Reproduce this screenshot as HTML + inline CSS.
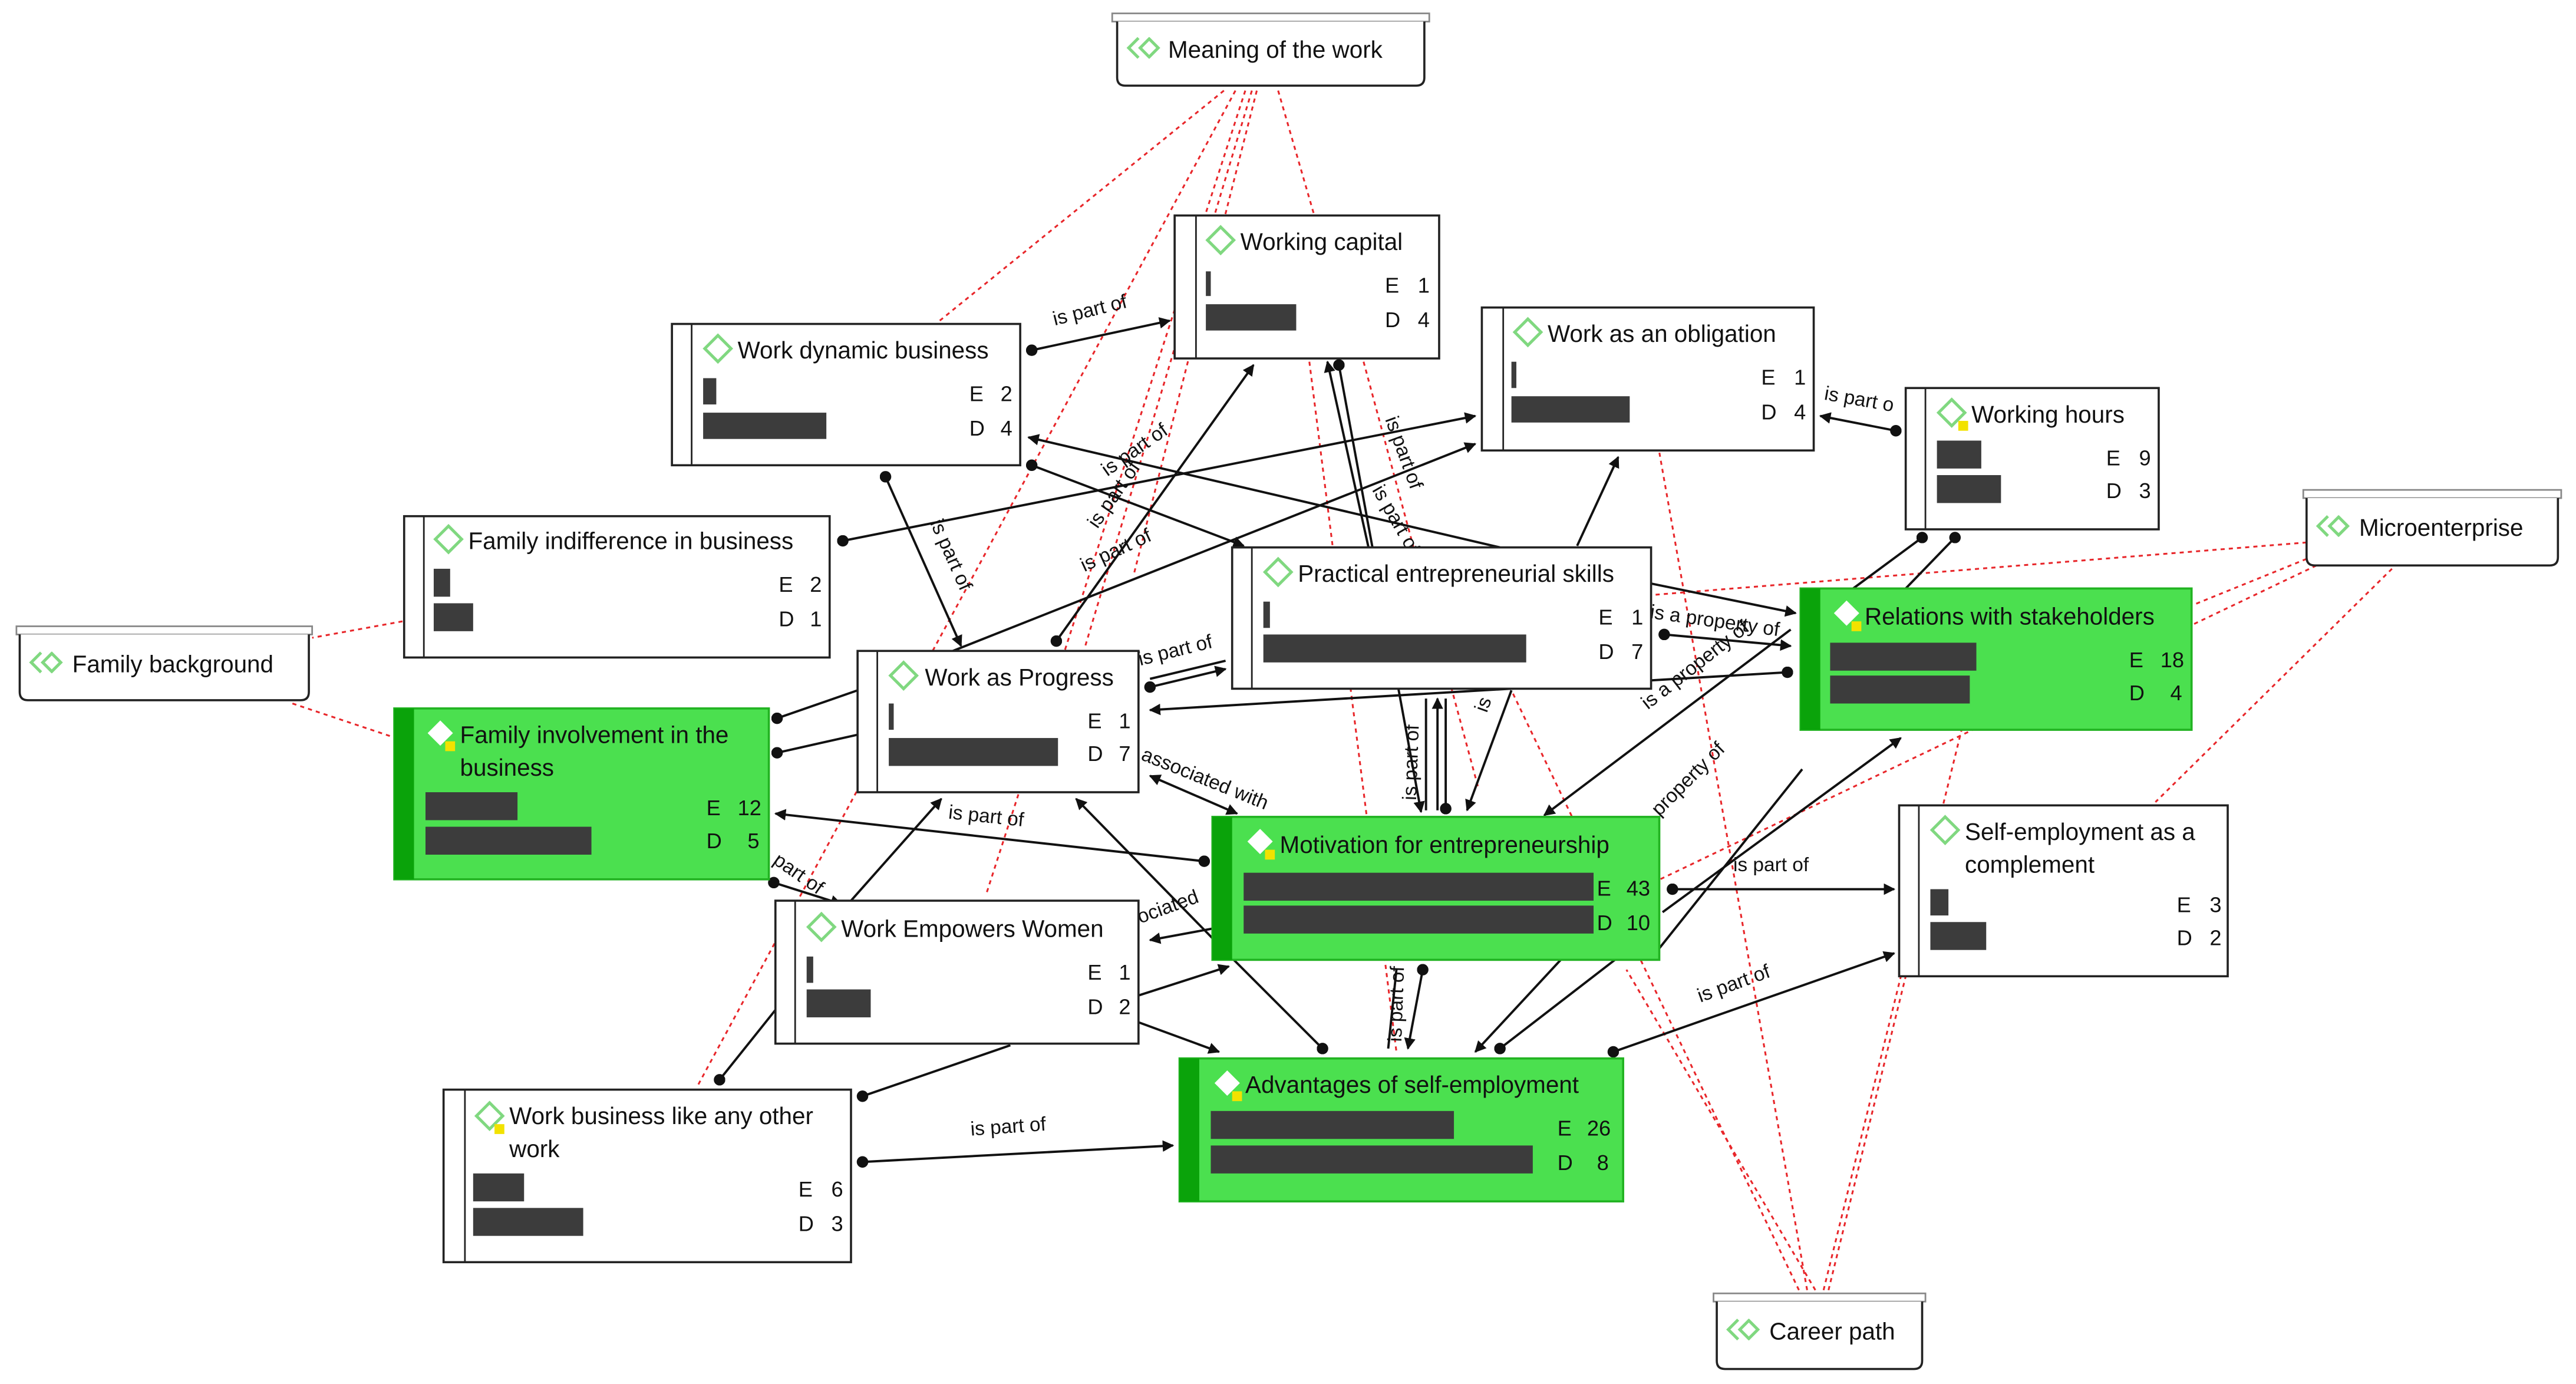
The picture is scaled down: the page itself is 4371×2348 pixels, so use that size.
<!DOCTYPE html>
<html><head><meta charset="utf-8"><style>
html,body{margin:0;padding:0;background:#fff;}
svg{display:block;}
text{font-family:"Liberation Sans Narrow","Liberation Sans",sans-serif;fill:#111;}
.t{font-size:14.5px;}
.n{font-size:13px;}
.l{font-size:12px;}
.r{stroke:#e8262a;stroke-width:1.1;stroke-dasharray:2.5 2.5;fill:none;}
.c{stroke:#111;stroke-width:1.4;fill:none;}
.w{fill:#fff;stroke:#222;stroke-width:1.3;}
.g{fill:#4be04f;stroke:#22b322;stroke-width:1.3;}
.gs{fill:#0aa30a;}
.b{fill:#3c3c3c;}
.dm{fill:none;stroke:#80d880;stroke-width:1.8;}
.dw{fill:#fff;stroke:#fff;}
.y{fill:#f2e200;}
</style></head><body>
<svg width="4371" height="2348" viewBox="0 0 1568 842" xmlns="http://www.w3.org/2000/svg">
<defs>
<marker id="a" viewBox="0 0 10 10" refX="9" refY="5" markerWidth="7" markerHeight="7" orient="auto-start-reverse" markerUnits="userSpaceOnUse"><path d="M0,0 L10,5 L0,10 z" fill="#111"/></marker>
<marker id="d" viewBox="0 0 10 10" refX="5" refY="5" markerWidth="7" markerHeight="7" markerUnits="userSpaceOnUse"><circle cx="5" cy="5" r="5" fill="#111"/></marker>
</defs>
<rect width="1568" height="842" fill="#fff"/>

<!-- red dotted -->
<g class="r">
<path d="M745,55 L572,195"/>
<path d="M752,55 L425,660"/>
<path d="M758,55 L600,545"/>
<path d="M762,55 L660,395"/>
<path d="M765,55 L690,350"/>
<path d="M778,55 L800,131"/>
<path d="M797,220 L850,640"/>
<path d="M830,220 L900,480"/>
<path d="M245,378 L190,388"/>
<path d="M178,428 L238,448"/>
<path d="M1100,785 L1010,275"/>
<path d="M1095,785 L920,420"/>
<path d="M1105,785 L990,590"/>
<path d="M1110,785 L1195,440"/>
<path d="M1113,785 L1160,594"/>
<path d="M1404,330 L1005,362"/>
<path d="M1404,340 L1335,368"/>
<path d="M1410,344 L1000,540"/>
<path d="M1456,346 L1312,488"/>
</g>

<!-- black connectors -->
<g class="c">
<path d="M628,213 L712,195" marker-start="url(#d)" marker-end="url(#a)"/>
<path d="M539,290 L585,393" marker-start="url(#d)" marker-end="url(#a)"/>
<path d="M628,283 L757,332" marker-start="url(#d)" marker-end="url(#a)"/>
<path d="M913,333 L626,266" marker-end="url(#a)"/>
<path d="M513,329 L898,253" marker-start="url(#d)" marker-end="url(#a)"/>
<path d="M643,390 L763,222" marker-start="url(#d)" marker-end="url(#a)"/>
<path d="M580,396 L898,270" marker-end="url(#a)"/>
<path d="M833,333 L808,220" marker-end="url(#a)"/>
<path d="M815,222 L865,494" marker-start="url(#d)" marker-end="url(#a)"/>
<path d="M960,332 L985,278" marker-end="url(#a)"/>
<path d="M1154,262 L1108,253" marker-start="url(#d)" marker-end="url(#a)"/>
<path d="M1170,327 L1128,358" marker-start="url(#d)"/>
<path d="M1190,327 L1160,358" marker-start="url(#d)"/>
<path d="M1005,355 L1093,373" marker-end="url(#a)"/>
<path d="M1013,386 L1090,393" marker-start="url(#d)" marker-end="url(#a)"/>
<path d="M1088,409 L700,432" marker-start="url(#d)" marker-end="url(#a)"/>
<path d="M1090,383 L940,496" marker-end="url(#a)"/>
<path d="M1018,541 L1153,541" marker-start="url(#d)" marker-end="url(#a)"/>
<path d="M982,640 L1153,580" marker-start="url(#d)" marker-end="url(#a)"/>
<path d="M1010,577 L1097,468"/>
<path d="M1012,555 L1157,449" marker-end="url(#a)"/>
<path d="M473,437 L522,420" marker-start="url(#d)"/>
<path d="M473,458 L522,447" marker-start="url(#d)"/>
<path d="M700,418 L746,407" marker-start="url(#d)" marker-end="url(#a)"/>
<path d="M700,413 L746,402"/>
<path d="M733,524 L472,495" marker-start="url(#d)" marker-end="url(#a)"/>
<path d="M700,472 L753,495" marker-start="url(#a)" marker-end="url(#a)"/>
<path d="M518,548 L573,486" marker-end="url(#a)"/>
<path d="M438,657 L474,612" marker-start="url(#d)"/>
<path d="M471,537 L512,550" marker-start="url(#d)" marker-end="url(#a)"/>
<path d="M655,486 L745,578" marker-start="url(#a)"/>
<path d="M700,572 L738,565" marker-start="url(#a)"/>
<path d="M692,606 L748,588" marker-end="url(#a)"/>
<path d="M693,622 L742,640" marker-end="url(#a)"/>
<path d="M525,667 L615,636" marker-start="url(#d)"/>
<path d="M525,707 L714,697" marker-start="url(#d)" marker-end="url(#a)"/>
<path d="M751,584 L805,638" marker-end="url(#d)"/>
<path d="M866,590 L857,638" marker-start="url(#d)" marker-end="url(#a)"/>
<path d="M850,590 L845,638"/>
<path d="M950,584 L898,640" marker-end="url(#a)"/>
<path d="M983,584 L913,638" marker-end="url(#d)"/>
<path d="M875,493 L875,425" marker-end="url(#a)"/>
<path d="M868,425 L868,493"/>
<path d="M880,425 L880,492" marker-end="url(#d)"/>
<path d="M920,420 L893,493" marker-end="url(#a)"/>
</g>

<!-- connector labels -->
<g class="l">
<text x="642" y="198" transform="rotate(-14 642 198)">is part of</text>
<text x="566" y="318" transform="rotate(66 566 318)">is part of</text>
<text x="674" y="290" transform="rotate(-35 674 290)">is part of</text>
<text x="668" y="322" transform="rotate(-55 668 322)">is part of</text>
<text x="660" y="348" transform="rotate(-25 660 348)">is part of</text>
<text x="843" y="255" transform="rotate(70 843 255)">is part of</text>
<text x="835" y="298" transform="rotate(60 835 298)">is part of</text>
<text x="1110" y="243" transform="rotate(10 1110 243)">is part o</text>
<text x="1004" y="376" transform="rotate(8 1004 376)">is a property of</text>
<text x="1003" y="432" transform="rotate(-38 1003 432)">is a property of</text>
<text x="1010" y="497" transform="rotate(-45 1010 497)">property of</text>
<text x="1055" y="530">is part of</text>
<text x="1035" y="610" transform="rotate(-20 1035 610)">is part of</text>
<text x="694" y="405" transform="rotate(-14 694 405)">is part of</text>
<text x="694" y="462" transform="rotate(22 694 462)">associated with</text>
<text x="577" y="498" transform="rotate(6 577 498)">is part of</text>
<text x="470" y="525" transform="rotate(35 470 525)">part of</text>
<text x="694" y="562" transform="rotate(-20 694 562)">ociated</text>
<text x="591" y="691" transform="rotate(-4 591 691)">is part of</text>
<text x="862" y="487" transform="rotate(-88 862 487)">is part of</text>
<text x="853" y="634" transform="rotate(-88 853 634)">is part of</text>
<text x="905" y="434" transform="rotate(-70 905 434)">is</text>
</g>

<!-- document nodes -->
<g>
<rect x="677" y="8" width="193" height="5" fill="#fff" stroke="#888"/>
<path d="M680,13 V47 Q680,52 685,52 H862 Q867,52 867,47 V13" class="w"/>
<path d="M693,23 l-6,6 6,6 M700,23 l-6,6 6,6 M699,23 l6,6 -6,6" class="dm"/>
<text class="t" x="711" y="35">Meaning of the work</text>

<rect x="10" y="381" width="180" height="5" fill="#fff" stroke="#888"/>
<path d="M12,386 V421 Q12,426 17,426 H183 Q188,426 188,421 V386" class="w"/>
<path d="M25,397 l-6,6 6,6 M32,397 l-6,6 6,6 M31,397 l6,6 -6,6" class="dm"/>
<text class="t" x="44" y="409">Family background</text>

<rect x="1402" y="298" width="157" height="5" fill="#fff" stroke="#888"/>
<path d="M1404,303 V339 Q1404,344 1409,344 H1552 Q1557,344 1557,339 V303" class="w"/>
<path d="M1417,314 l-6,6 6,6 M1424,314 l-6,6 6,6 M1423,314 l6,6 -6,6" class="dm"/>
<text class="t" x="1436" y="326">Microenterprise</text>

<rect x="1043" y="787" width="129" height="5" fill="#fff" stroke="#888"/>
<path d="M1045,792 V828 Q1045,833 1050,833 H1165 Q1170,833 1170,828 V792" class="w"/>
<path d="M1058,803 l-6,6 6,6 M1065,803 l-6,6 6,6 M1064,803 l6,6 -6,6" class="dm"/>
<text class="t" x="1077" y="815">Career path</text>
</g>

<!-- white nodes -->
<!-- Working capital -->
<rect class="w" x="715" y="131" width="161" height="87"/><line x1="728" y1="131" x2="728" y2="218" stroke="#222"/>
<polygon class="dm" points="743,138 751,146 743,154 735,146"/>
<text class="t" x="755" y="152">Working capital</text>
<rect class="b" x="734" y="165" width="3" height="15"/><rect class="b" x="734" y="185" width="55" height="16"/>
<text class="n" x="843" y="178">E</text><text class="n" x="863" y="178">1</text>
<text class="n" x="843" y="199">D</text><text class="n" x="863" y="199">4</text>

<!-- Work as an obligation -->
<rect class="w" x="902" y="187" width="202" height="87"/><line x1="915" y1="187" x2="915" y2="274" stroke="#222"/>
<polygon class="dm" points="930,194 938,202 930,210 922,202"/>
<text class="t" x="942" y="208">Work as an obligation</text>
<rect class="b" x="920" y="220" width="3" height="16"/><rect class="b" x="920" y="241" width="72" height="16"/>
<text class="n" x="1072" y="234">E</text><text class="n" x="1092" y="234">1</text>
<text class="n" x="1072" y="255">D</text><text class="n" x="1092" y="255">4</text>

<!-- Working hours -->
<rect class="w" x="1160" y="236" width="154" height="86"/><line x1="1172" y1="236" x2="1172" y2="322" stroke="#222"/>
<polygon class="dm" points="1188,243 1196,251 1188,259 1180,251"/><rect class="y" x="1192" y="256" width="6" height="6"/>
<text class="t" x="1200" y="257">Working hours</text>
<rect class="b" x="1179" y="268" width="27" height="17"/><rect class="b" x="1179" y="289" width="39" height="17"/>
<text class="n" x="1282" y="283">E</text><text class="n" x="1302" y="283">9</text>
<text class="n" x="1282" y="303">D</text><text class="n" x="1302" y="303">3</text>

<!-- Work dynamic business -->
<rect class="w" x="409" y="197" width="212" height="86"/><line x1="421" y1="197" x2="421" y2="283" stroke="#222"/>
<polygon class="dm" points="437,204 445,212 437,220 429,212"/>
<text class="t" x="449" y="218">Work dynamic business</text>
<rect class="b" x="428" y="230" width="8" height="16"/><rect class="b" x="428" y="251" width="75" height="16"/>
<text class="n" x="590" y="244">E</text><text class="n" x="609" y="244">2</text>
<text class="n" x="590" y="265">D</text><text class="n" x="609" y="265">4</text>

<!-- Family indifference -->
<rect class="w" x="246" y="314" width="259" height="86"/><line x1="258" y1="314" x2="258" y2="400" stroke="#222"/>
<polygon class="dm" points="273,320 281,328 273,336 265,328"/>
<text class="t" x="285" y="334">Family indifference in business</text>
<rect class="b" x="264" y="346" width="10" height="17"/><rect class="b" x="264" y="367" width="24" height="17"/>
<text class="n" x="474" y="360">E</text><text class="n" x="493" y="360">2</text>
<text class="n" x="474" y="381">D</text><text class="n" x="493" y="381">1</text>

<!-- Practical entrepreneurial skills -->
<rect class="w" x="750" y="333" width="255" height="86"/><line x1="762" y1="333" x2="762" y2="419" stroke="#222"/>
<polygon class="dm" points="778,340 786,348 778,356 770,348"/>
<text class="t" x="790" y="354">Practical entrepreneurial skills</text>
<rect class="b" x="769" y="366" width="4" height="16"/><rect class="b" x="769" y="386" width="160" height="17"/>
<text class="n" x="973" y="380">E</text><text class="n" x="993" y="380">1</text>
<text class="n" x="973" y="401">D</text><text class="n" x="993" y="401">7</text>

<!-- Work as Progress -->
<rect class="w" x="522" y="396" width="171" height="86"/><line x1="534" y1="396" x2="534" y2="482" stroke="#222"/>
<polygon class="dm" points="550,403 558,411 550,419 542,411"/>
<text class="t" x="563" y="417">Work as Progress</text>
<rect class="b" x="541" y="428" width="3" height="16"/><rect class="b" x="541" y="449" width="103" height="17"/>
<text class="n" x="662" y="443">E</text><text class="n" x="681" y="443">1</text>
<text class="n" x="662" y="463">D</text><text class="n" x="681" y="463">7</text>

<!-- Self-employment as a complement -->
<rect class="w" x="1156" y="490" width="200" height="104"/><line x1="1168" y1="490" x2="1168" y2="594" stroke="#222"/>
<polygon class="dm" points="1184,497 1192,505 1184,513 1176,505"/>
<text class="t" x="1196" y="511">Self-employment as a</text>
<text class="t" x="1196" y="531">complement</text>
<rect class="b" x="1175" y="541" width="11" height="16"/><rect class="b" x="1175" y="561" width="34" height="17"/>
<text class="n" x="1325" y="555">E</text><text class="n" x="1345" y="555">3</text>
<text class="n" x="1325" y="575">D</text><text class="n" x="1345" y="575">2</text>

<!-- Work Empowers Women -->
<rect class="w" x="472" y="548" width="221" height="87"/><line x1="484" y1="548" x2="484" y2="635" stroke="#222"/>
<polygon class="dm" points="500,556 508,564 500,572 492,564"/>
<text class="t" x="512" y="570">Work Empowers Women</text>
<rect class="b" x="491" y="582" width="4" height="16"/><rect class="b" x="491" y="602" width="39" height="17"/>
<text class="n" x="662" y="596">E</text><text class="n" x="681" y="596">1</text>
<text class="n" x="662" y="617">D</text><text class="n" x="681" y="617">2</text>

<!-- Work business like any other work -->
<rect class="w" x="270" y="663" width="248" height="105"/><line x1="283" y1="663" x2="283" y2="768" stroke="#222"/>
<polygon class="dm" points="298,671 306,679 298,687 290,679"/><rect class="y" x="301" y="684" width="6" height="6"/>
<text class="t" x="310" y="684">Work business like any other</text>
<text class="t" x="310" y="704">work</text>
<rect class="b" x="288" y="714" width="31" height="17"/><rect class="b" x="288" y="735" width="67" height="17"/>
<text class="n" x="486" y="728">E</text><text class="n" x="506" y="728">6</text>
<text class="n" x="486" y="749">D</text><text class="n" x="506" y="749">3</text>

<!-- green nodes -->
<!-- Relations with stakeholders -->
<rect class="g" x="1096" y="358" width="238" height="86"/><rect class="gs" x="1096" y="358" width="12" height="86"/>
<polygon class="dw" points="1124,366 1131,373 1124,380 1117,373"/><rect class="y" x="1127" y="378" width="6" height="6"/>
<text class="t" x="1135" y="380">Relations with stakeholders</text>
<rect class="b" x="1114" y="391" width="89" height="17"/><rect class="b" x="1114" y="411" width="85" height="17"/>
<text class="n" x="1296" y="406">E</text><text class="n" x="1315" y="406">18</text>
<text class="n" x="1296" y="426">D</text><text class="n" x="1321" y="426">4</text>

<!-- Family involvement -->
<rect class="g" x="240" y="431" width="228" height="104"/><rect class="gs" x="240" y="431" width="12" height="104"/>
<polygon class="dw" points="268,439 275,446 268,453 261,446"/><rect class="y" x="271" y="451" width="6" height="6"/>
<text class="t" x="280" y="452">Family involvement in the</text>
<text class="t" x="280" y="472">business</text>
<rect class="b" x="259" y="482" width="56" height="17"/><rect class="b" x="259" y="503" width="101" height="17"/>
<text class="n" x="430" y="496">E</text><text class="n" x="449" y="496">12</text>
<text class="n" x="430" y="516">D</text><text class="n" x="455" y="516">5</text>

<!-- Motivation -->
<rect class="g" x="738" y="497" width="272" height="87"/><rect class="gs" x="738" y="497" width="12" height="87"/>
<polygon class="dw" points="767,505 774,512 767,519 760,512"/><rect class="y" x="770" y="517" width="6" height="6"/>
<text class="t" x="779" y="519">Motivation for entrepreneurship</text>
<rect class="b" x="757" y="531" width="213" height="17"/><rect class="b" x="757" y="551" width="213" height="17"/>
<text class="n" x="972" y="545">E</text><text class="n" x="990" y="545">43</text>
<text class="n" x="972" y="566">D</text><text class="n" x="990" y="566">10</text>

<!-- Advantages -->
<rect class="g" x="718" y="644" width="270" height="87"/><rect class="gs" x="718" y="644" width="12" height="87"/>
<polygon class="dw" points="747,652 754,659 747,666 740,659"/><rect class="y" x="750" y="664" width="6" height="6"/>
<text class="t" x="758" y="665">Advantages of self-employment</text>
<rect class="b" x="737" y="676" width="148" height="17"/><rect class="b" x="737" y="697" width="196" height="17"/>
<text class="n" x="948" y="691">E</text><text class="n" x="966" y="691">26</text>
<text class="n" x="948" y="712">D</text><text class="n" x="972" y="712">8</text>
</svg>
</body></html>
